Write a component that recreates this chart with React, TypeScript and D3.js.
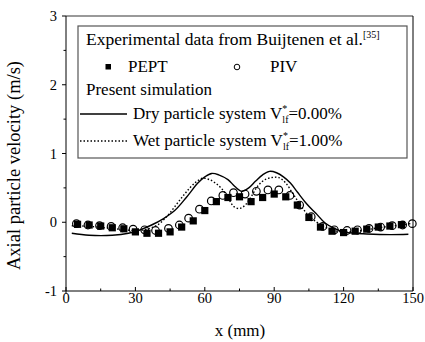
import React from "react";
import * as d3 from "d3";

const xTicks = [0, 30, 60, 90, 120, 150];
const xMinor = [15, 45, 75, 105, 135];
const yTicks = [-1, 0, 1, 2, 3];
const yMinor = [-0.5, 0.5, 1.5, 2.5];

const peptX = [5, 10, 15, 20, 25, 30, 35, 40, 45, 50, 55, 60, 65, 70, 75, 80, 85, 90, 95, 100, 105, 110, 115, 120, 125, 130, 135, 140, 145];
const peptY = [-0.03, -0.04, -0.055, -0.08, -0.095, -0.14, -0.16, -0.16, -0.14, -0.07, 0.02, 0.17, 0.3, 0.36, 0.37, 0.3, 0.36, 0.41, 0.37, 0.25, 0.07, -0.07, -0.13, -0.15, -0.13, -0.1, -0.07, -0.055, -0.035];

const pivX = [4.5, 9.5, 14.5, 19.5, 24.5, 29, 34, 38.7, 44.3, 49, 53, 57.7, 62.8, 67.8, 72.4, 77.4, 82.3, 87.3, 92, 96.8, 101, 106, 111, 116, 121.5, 126, 131, 136, 141, 145.5, 149.7];
const pivY = [-0.02, -0.04, -0.05, -0.06, -0.08, -0.1, -0.11, -0.12, -0.09, -0.04, 0.06, 0.19, 0.31, 0.39, 0.43, 0.41, 0.45, 0.47, 0.47, 0.39, 0.25, 0.08, -0.06, -0.11, -0.12, -0.11, -0.09, -0.07, -0.05, -0.04, -0.02];

const dryX = [2.5, 10, 20, 27, 32, 37, 42, 47, 52, 57, 60, 63, 66, 70, 73, 76, 79, 82, 85, 88, 91, 94, 97, 100, 104, 108, 112, 116, 120, 125, 130, 140, 148];
const dryY = [-0.16, -0.19, -0.19, -0.16, -0.11, -0.04, 0.05, 0.17, 0.36, 0.57, 0.66, 0.71, 0.69, 0.62, 0.52, 0.45, 0.5, 0.6, 0.69, 0.74, 0.72, 0.66, 0.57, 0.44, 0.27, 0.13, -0.01, -0.09, -0.14, -0.16, -0.17, -0.18, -0.175];

const wetX = [2.5, 10, 20, 30, 35, 40, 44, 48, 52, 56, 59, 62, 65, 68, 70.5, 72.5, 75, 77.5, 80, 83, 86, 89, 92, 95, 98, 101, 104, 108, 112, 116, 120, 125, 130, 135, 140, 145, 149];
const wetY = [-0.05, -0.06, -0.09, -0.12, -0.1, -0.03, 0.1, 0.27, 0.44, 0.58, 0.64, 0.62, 0.56, 0.46, 0.33, 0.23, 0.2, 0.25, 0.37, 0.53, 0.62, 0.65, 0.65, 0.57, 0.42, 0.27, 0.13, 0.01, -0.07, -0.12, -0.14, -0.13, -0.11, -0.08, -0.06, -0.04, -0.02];

const L = 66, T = 16, R = 413, B = 291;
const FONT = "'Liberation Serif', 'Times New Roman', serif";

export default function App() {
  const x = d3.scaleLinear().domain([0, 150]).range([L, R]);
  const y = d3.scaleLinear().domain([-1, 3]).range([B, T]);
  const line = d3
    .line<[number, number]>()
    .x((d) => x(d[0]))
    .y((d) => y(d[1]))
    .curve(d3.curveCatmullRom.alpha(0.5));
  const dry = line(dryX.map((v, i) => [v, dryY[i]]) as [number, number][]) || "";
  const wet = line(wetX.map((v, i) => [v, wetY[i]]) as [number, number][]) || "";
  const sq = 7.2;

  return (
    <svg
      width={425}
      height={342}
      style={{ position: "absolute", left: 0, top: 0, background: "#fff" }}
      fontFamily={FONT}
    >
      <rect x={0} y={0} width={425} height={342} fill="#fff" />
      {/* frame */}
      <line x1={L} y1={T} x2={R} y2={T} stroke="#777" strokeWidth={1.5} />
      <line x1={R} y1={T} x2={R} y2={B} stroke="#000" strokeWidth={1} />
      <line x1={L} y1={T} x2={L} y2={B + 3} stroke="#000" strokeWidth={1} />
      <line x1={L} y1={B} x2={R} y2={B} stroke="#000" strokeWidth={1} />
      {/* x ticks */}
      {xTicks.map((t) => (
        <g key={"xt" + t}>
          <line x1={x(t)} x2={x(t)} y1={B} y2={B - 4} stroke="#000" />
          <text x={x(t)} y={303} fontSize={14.5} textAnchor="middle">
            {t}
          </text>
        </g>
      ))}
      {xMinor.map((t) => (
        <line key={"xm" + t} x1={x(t)} x2={x(t)} y1={B} y2={B - 2.5} stroke="#000" />
      ))}
      {/* y ticks */}
      {yTicks.map((t) => (
        <g key={"yt" + t}>
          <line x1={L - 4} x2={L} y1={y(t)} y2={y(t)} stroke="#000" />
          <text x={L - 9} y={y(t) + 5} fontSize={14.5} textAnchor="end">
            {t < 0 ? "-" + Math.abs(t) : t}
          </text>
        </g>
      ))}
      {yMinor.map((t) => (
        <line key={"ym" + t} x1={L - 2.5} x2={L} y1={y(t)} y2={y(t)} stroke="#000" />
      ))}
      {/* axis titles */}
      <text x={240} y={336} fontSize={17} textAnchor="middle">
        x (mm)
      </text>
      <text
        transform={`translate(20,${(T + B) / 2 + 12}) rotate(-90)`}
        fontSize={18.5}
        textAnchor="middle"
      >
        Axial particle velocity (m/s)
      </text>
      {/* data */}
      <path d={dry} fill="none" stroke="#000" strokeWidth={1.4} />
      <path d={wet} fill="none" stroke="#000" strokeWidth={1.4} strokeDasharray="1.5 2" />
      {pivX.map((v, i) => (
        <circle key={"c" + i} cx={x(v)} cy={y(pivY[i])} r={3.8} fill="none" stroke="#000" strokeWidth={1.2} />
      ))}
      {peptX.map((v, i) => (
        <rect key={"s" + i} x={x(v) - sq / 2} y={y(peptY[i]) - sq / 2} width={sq} height={sq} fill="#000" />
      ))}
      {/* legend */}
      <rect x={78} y={26} width={329} height={132} fill="#fff" stroke="#555" strokeWidth={1.2} />
      <text x={86} y={45} fontSize={17.5}>
        Experimental data from Buijtenen et al.
        <tspan fontSize={10} dy={-7}>[35]</tspan>
      </text>
      <rect x={105.5} y={64} width={5.5} height={5.5} fill="#000" />
      <text x={128} y={72} fontSize={17}>PEPT</text>
      <circle cx={237} cy={67} r={2.8} fill="none" stroke="#000" strokeWidth={1} />
      <text x={270} y={72} fontSize={17}>PIV</text>
      <text x={86} y={95} fontSize={17}>Present simulation</text>
      <line x1={80} x2={127} y1={114} y2={114} stroke="#000" strokeWidth={1.3} />
      <text x={133} y={119} fontSize={17}>
        Dry particle system V
        <tspan fontSize={10} dy={-7}>*</tspan>
        <tspan fontSize={10} dx={-5} dy={11}>lf</tspan>
        <tspan dy={-4}>=0.00%</tspan>
      </text>
      <line x1={80} x2={127} y1={141} y2={141} stroke="#000" strokeWidth={1.3} strokeDasharray="1.5 2" />
      <text x={133} y={146} fontSize={17}>
        Wet particle system V
        <tspan fontSize={10} dy={-7}>*</tspan>
        <tspan fontSize={10} dx={-5} dy={11}>lf</tspan>
        <tspan dy={-4}>=1.00%</tspan>
      </text>
    </svg>
  );
}
